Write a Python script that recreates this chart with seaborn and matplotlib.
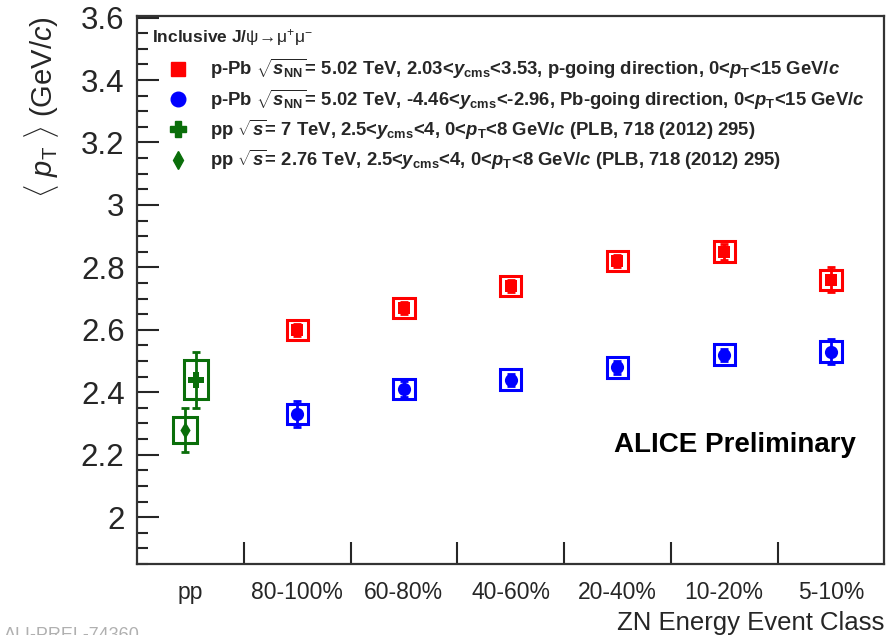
import numpy as np
import pandas as pd
import seaborn as sns
import matplotlib
matplotlib.use("Agg")
import matplotlib.pyplot as plt
from matplotlib.patches import Rectangle
from matplotlib.lines import Line2D
from matplotlib.ticker import MultipleLocator, FixedLocator, NullFormatter, FixedFormatter, FuncFormatter

# ---- data -------------------------------------------------------------
categories = ["pp", "80-100%", "60-80%", "40-60%", "20-40%", "10-20%", "5-10%"]

# p-Pb, p-going direction (forward)
fwd_mean = [2.60, 2.67, 2.74, 2.82, 2.85, 2.76]
fwd_stat = [0.02, 0.02, 0.02, 0.02, 0.025, 0.04]
fwd_syst = [0.033, 0.033, 0.033, 0.033, 0.033, 0.033]

# p-Pb, Pb-going direction (backward)
bwd_mean = [2.33, 2.41, 2.44, 2.48, 2.52, 2.53]
bwd_stat = [0.042, 0.025, 0.02, 0.02, 0.02, 0.04]
bwd_syst = [0.033, 0.033, 0.033, 0.033, 0.033, 0.033]

# pp references
pp7_mean, pp7_stat, pp7_syst = 2.44, 0.09, 0.062
pp276_mean, pp276_stat, pp276_syst = 2.28, 0.07, 0.042

# ---- style ------------------------------------------------------------
sns.set_theme(style="ticks")
plt.rcParams["font.family"] = ["Liberation Sans", "DejaVu Sans"]
plt.rcParams["mathtext.fontset"] = "custom"
plt.rcParams["mathtext.rm"] = "Liberation Sans"
plt.rcParams["mathtext.it"] = "Liberation Sans:italic"
plt.rcParams["mathtext.bf"] = "Liberation Sans:bold"
plt.rcParams["mathtext.bfit"] = "Liberation Sans:italic:bold"

RED = "#ff0000"
BLUE = "#0000ff"
GREEN = "#0a6e0a"

fig = plt.figure(figsize=(8.87, 6.35), dpi=100)
ax = fig.add_axes([0.1545, 0.1118, 0.8425, 0.863])

cat_idx = np.arange(len(categories))
centers = cat_idx + 0.5
ppb_x = centers[1:]

df = pd.DataFrame({
    "x": np.concatenate([ppb_x, ppb_x]),
    "mean": fwd_mean + bwd_mean,
    "stat": fwd_stat + bwd_stat,
    "syst": fwd_syst + bwd_syst,
    "sample": ["fwd"] * len(fwd_mean) + ["bwd"] * len(bwd_mean),
})

box_hw = 0.1


def syst_box(x, y, dy, color, hw=box_hw):
    ax.add_patch(Rectangle((x - hw, y - dy), 2 * hw, 2 * dy, fill=False,
                           edgecolor=color, linewidth=2.2, zorder=2))


for sample, color, marker, ms in [("fwd", RED, "s", 75), ("bwd", BLUE, "o", 90)]:
    sub = df[df["sample"] == sample]
    for _, r in sub.iterrows():
        syst_box(r["x"], r["mean"], r["syst"], color)
    ax.errorbar(sub["x"], sub["mean"], yerr=sub["stat"], fmt="none",
                ecolor=color, elinewidth=2, capsize=3, capthick=2, zorder=3)
    sns.scatterplot(data=sub, x="x", y="mean", ax=ax, color=color, marker=marker,
                    s=ms, edgecolor=color, linewidth=0, zorder=4, legend=False)

# pp points, split inside the first class
pp_x7 = centers[0] + 0.05
pp_x276 = centers[0] - 0.05
syst_box(pp_x7, pp7_mean, pp7_syst, GREEN, hw=0.11)
syst_box(pp_x276, pp276_mean, pp276_syst, GREEN, hw=0.11)
ax.errorbar([pp_x7], [pp7_mean], yerr=[pp7_stat], fmt="none", ecolor=GREEN,
            elinewidth=2, capsize=3, capthick=2, zorder=3)
ax.errorbar([pp_x276], [pp276_mean], yerr=[pp276_stat], fmt="none", ecolor=GREEN,
            elinewidth=2, capsize=3, capthick=2, zorder=3)
sns.scatterplot(x=[pp_x7], y=[pp7_mean], ax=ax, color=GREEN, marker="P", s=130,
                linewidth=0, zorder=4, legend=False)
sns.scatterplot(x=[pp_x276], y=[pp276_mean], ax=ax, color=GREEN, marker="d", s=75,
                linewidth=0, zorder=4, legend=False)

# ---- axes -------------------------------------------------------------
ax.set_xlim(0, len(categories))
ax.set_ylim(1.85, 3.605)

ax.yaxis.set_major_locator(MultipleLocator(0.2))
ax.yaxis.set_minor_locator(MultipleLocator(0.05))
ax.yaxis.set_major_formatter(FuncFormatter(lambda v, p: f"{v:g}"))
ax.tick_params(axis="y", which="major", direction="in", length=16, width=1.5,
               labelsize=22.5, pad=9, left=True, right=False)
ax.tick_params(axis="y", which="minor", direction="in", length=8, width=1.5,
               left=True, right=False)

ax.xaxis.set_major_locator(FixedLocator(cat_idx[1:]))
ax.xaxis.set_major_formatter(NullFormatter())
ax.xaxis.set_minor_locator(FixedLocator(centers))
ax.xaxis.set_minor_formatter(FixedFormatter(categories))
ax.tick_params(axis="x", which="major", direction="in", length=16, width=1.5,
               bottom=True, top=False)
ax.tick_params(axis="x", which="minor", length=0, labelsize=16.5, pad=12)

for side in ["left", "right", "top", "bottom"]:
    ax.spines[side].set_visible(True)
    ax.spines[side].set_linewidth(1.6)
    ax.spines[side].set_color("#333333")

ax.set_xlabel("ZN Energy Event Class", loc="right", fontsize=18.5)
ax.xaxis.set_label_coords(1.0, -0.1204)
ax.xaxis.label.set_va("baseline")
ax.set_ylabel(r"$\langle\ p_{\rm T}\ \rangle$ (GeV/$c$)", loc="top", fontsize=21,
              labelpad=14)

# ---- legend -----------------------------------------------------------
ax.text(0.020, 0.960, r"Inclusive J/$\mathrm{\psi}\!\rightarrow\!\mathrm{\mu}^{+}\mathrm{\mu}^{-}$",
        transform=ax.transAxes, ha="left", va="center", fontsize=12.5,
        fontweight="bold")

handles = [
    Line2D([], [], ls="none", marker="s", color=RED, markersize=10),
    Line2D([], [], ls="none", marker="o", color=BLUE, markersize=10.5),
    Line2D([], [], ls="none", marker="P", color=GREEN, markersize=11),
    Line2D([], [], ls="none", marker="d", color=GREEN, markersize=9),
]
labels = [
    r"p-Pb $\sqrt{\mathbfit{s}_{\mathbf{NN}}}$= 5.02 TeV, 2.03<$\mathbfit{y}_{\mathbf{cms}}$<3.53, p-going direction, 0<$\mathbfit{p}_{\mathbf{T}}$<15 GeV/$\mathbfit{c}$",
    r"p-Pb $\sqrt{\mathbfit{s}_{\mathbf{NN}}}$= 5.02 TeV, -4.46<$\mathbfit{y}_{\mathbf{cms}}$<-2.96, Pb-going direction, 0<$\mathbfit{p}_{\mathbf{T}}$<15 GeV/$\mathbfit{c}$",
    r"pp $\sqrt{\mathbfit{s}}$= 7 TeV, 2.5<$\mathbfit{y}_{\mathbf{cms}}$<4, 0<$\mathbfit{p}_{\mathbf{T}}$<8 GeV/$\mathbfit{c}$ (PLB, 718 (2012) 295)",
    r"pp $\sqrt{\mathbfit{s}}$= 2.76 TeV, 2.5<$\mathbfit{y}_{\mathbf{cms}}$<4, 0<$\mathbfit{p}_{\mathbf{T}}$<8 GeV/$\mathbfit{c}$ (PLB, 718 (2012) 295)",
]
leg = ax.legend(handles, labels, loc="upper left", bbox_to_anchor=(0.013, 0.955),
                frameon=False, prop={"weight": "bold", "size": 13.3},
                labelspacing=0.33, handletextpad=0.9,
                borderpad=0.4, handlelength=1.6)

ax.text(0.962, 0.217, "ALICE Preliminary", transform=ax.transAxes, ha="right",
        va="center", fontsize=20, fontweight="bold", color="black")

fig.text(0.005, -0.014, "ALI-PREL-74360", fontsize=13, color="#b0b0b0",
         ha="left", va="bottom")

fig.savefig("out.png", dpi=100)
